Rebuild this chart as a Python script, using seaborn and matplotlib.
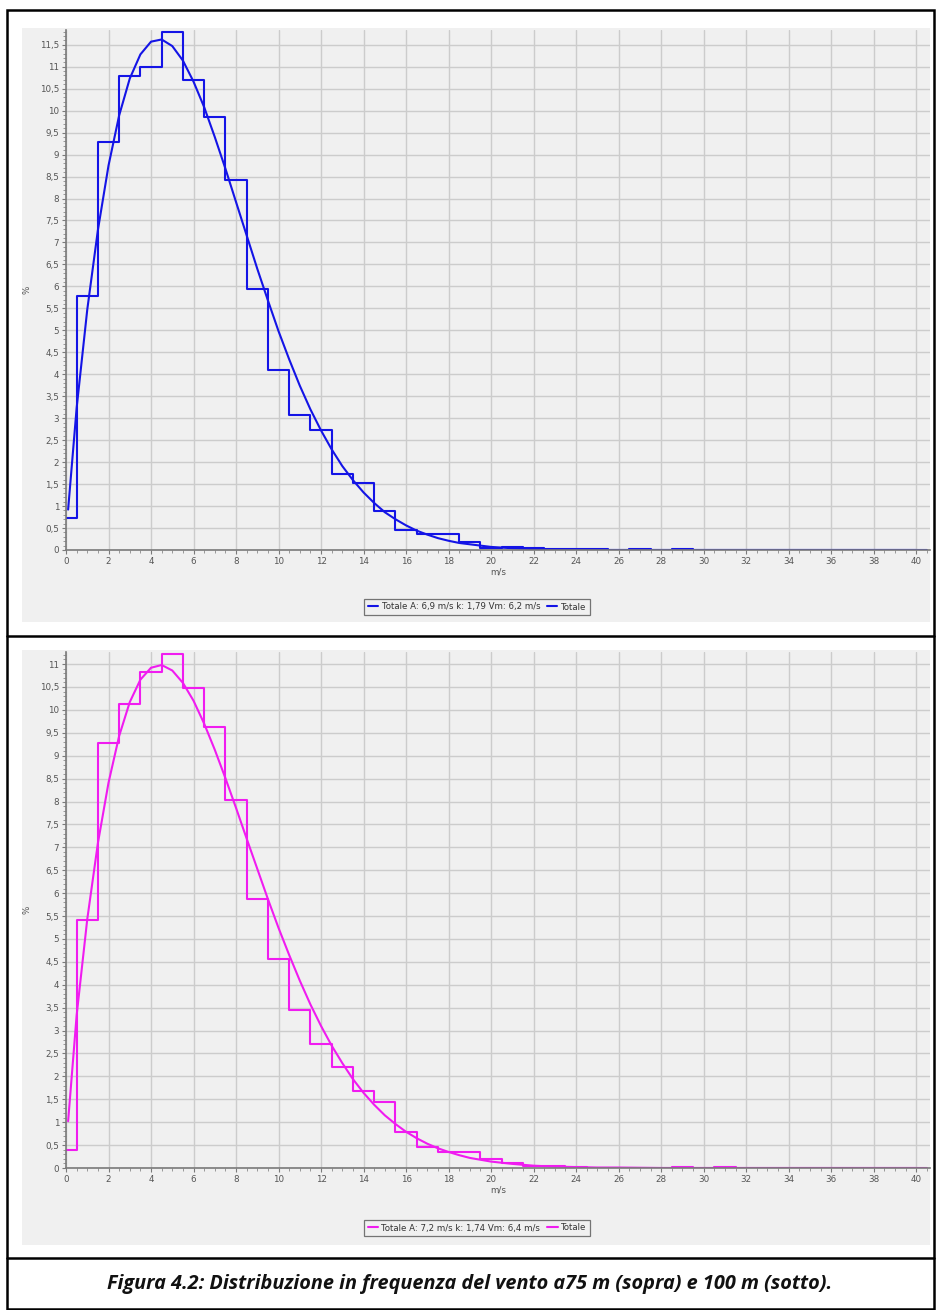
import numpy as np
import matplotlib
matplotlib.use("Agg")
import matplotlib.pyplot as plt
from matplotlib.patches import Rectangle
from matplotlib.lines import Line2D
from matplotlib.ticker import MultipleLocator, FuncFormatter
import pandas as pd
import seaborn as sns

# ──────────────────────────────────────────
# DATA
# ──────────────────────────────────────────
speed_bins = list(range(0, 41))

hist_75 = [0.73, 5.78, 9.28, 10.78, 11.0, 11.8, 10.7, 9.85, 8.42, 5.95,
           4.1, 3.07, 2.72, 1.74, 1.52, 0.89, 0.46, 0.37, 0.37, 0.19,
           0.05, 0.06, 0.05, 0.02, 0.02, 0.02, 0.01, 0.02, 0.01, 0.02,
           0.0, 0.0, 0.0, 0.0, 0.0, 0.0, 0.0, 0.0, 0.0, 0.0, 0.0]

hist_100 = [0.4, 5.42, 9.28, 10.13, 10.83, 11.23, 10.47, 9.62, 8.03, 5.87,
            4.57, 3.45, 2.7, 2.21, 1.68, 1.45, 0.79, 0.46, 0.36, 0.34,
            0.2, 0.11, 0.05, 0.04, 0.02, 0.01, 0.01, 0.0, 0.0, 0.02,
            0.0, 0.02, 0.0, 0.0, 0.0, 0.0, 0.0, 0.0, 0.0, 0.0, 0.0]

curve_x = [0.1, 0.5, 1, 1.5, 2, 2.5, 3, 3.5, 4, 4.5, 5, 5.5, 6, 6.5, 7, 7.5,
           8, 8.5, 9, 9.5, 10, 10.5, 11, 11.5, 12, 12.5, 13, 13.5, 14, 14.5,
           15, 15.5, 16, 16.5, 17, 17.5, 18, 18.5, 19, 19.5, 20, 21, 22, 23,
           24, 25, 26, 28, 30, 35, 40.5]

weibull_75 = [0.92, 3.23, 5.47, 7.28, 8.75, 9.89, 10.73, 11.28, 11.57, 11.62,
              11.47, 11.14, 10.66, 10.08, 9.40, 8.68, 7.92, 7.16, 6.40, 5.68,
              4.98, 4.34, 3.74, 3.20, 2.72, 2.29, 1.91, 1.59, 1.31, 1.07,
              0.86, 0.70, 0.56, 0.44, 0.35, 0.27, 0.21, 0.16, 0.13, 0.10,
              0.07, 0.04, 0.02, 0.01, 0.01, 0.0, 0.0, 0.0, 0.0, 0.0, 0.0]

weibull_100 = [1.02, 3.33, 5.43, 7.09, 8.41, 9.43, 10.17, 10.66, 10.92, 10.98,
               10.86, 10.59, 10.20, 9.70, 9.13, 8.51, 7.86, 7.19, 6.53, 5.87,
               5.24, 4.65, 4.09, 3.57, 3.10, 2.67, 2.29, 1.94, 1.64, 1.38,
               1.15, 0.96, 0.79, 0.65, 0.53, 0.43, 0.35, 0.28, 0.22, 0.18,
               0.14, 0.09, 0.05, 0.03, 0.02, 0.01, 0.01, 0.0, 0.0, 0.0, 0.0]

legend_75 = "Totale A: 6,9 m/s k: 1,79 Vm: 6,2 m/s"
legend_100 = "Totale A: 7,2 m/s k: 1,74 Vm: 6,4 m/s"
caption = "Figura 4.2: Distribuzione in frequenza del vento a75 m (sopra) e 100 m (sotto)."

# ──────────────────────────────────────────
# STYLE
# ──────────────────────────────────────────
sns.set_style("whitegrid", {"axes.facecolor": "#f0f0f0",
                            "grid.color": "#cccccc",
                            "axes.edgecolor": "#8a8a8a"})
plt.rcParams['font.family'] = ['DejaVu Sans']

W, H = 936, 1310
fig = plt.figure(figsize=(W / 100, H / 100), dpi=100)


def fx(px):
    return px / W


def fy(py):
    return 1 - py / H


comma = FuncFormatter(lambda v, _: f"{v:g}".replace('.', ','))

# gray chart panels
for top, bot in [(28, 622), (650, 1245)]:
    fig.patches.append(Rectangle((fx(22), fy(bot)), fx(930) - fx(22), fy(top) - fy(bot),
                                 transform=fig.transFigure, facecolor='#f0f0f0',
                                 edgecolor='none', zorder=-5))

# outer frame + dividers
fig.patches.append(Rectangle((fx(7), fy(1309)), fx(934) - fx(7), fy(10) - fy(1309),
                             transform=fig.transFigure, facecolor='none',
                             edgecolor='black', linewidth=1.8, zorder=10))
for yy in (636, 1258):
    fig.add_artist(Line2D([fx(7), fx(934)], [fy(yy), fy(yy)], color='black',
                          linewidth=1.8, transform=fig.transFigure))

panels = [
    dict(top=30, bot=550, hist=hist_75, curve=weibull_75, color='#1414e6',
         label=legend_75, leg_y=607),
    dict(top=652, bot=1168, hist=hist_100, curve=weibull_100, color='#f01cf0',
         label=legend_100, leg_y=1228),
]

for p in panels:
    ax = fig.add_axes([fx(66), fy(p['bot']), fx(930) - fx(66), fy(p['top']) - fy(p['bot'])])
    df_h = pd.DataFrame({'x': speed_bins, 'y': p['hist']})
    df_c = pd.DataFrame({'x': curve_x, 'y': p['curve']})

    sns.lineplot(data=df_c, x='x', y='y', ax=ax, color=p['color'], linewidth=1.5,
                 estimator=None, sort=False, label=p['label'], legend=False)
    sns.lineplot(data=df_h, x='x', y='y', ax=ax, color=p['color'], linewidth=1.5,
                 estimator=None, sort=False, drawstyle='steps-mid', label='Totale',
                 legend=False)

    ax.set_xlim(0, 40.65)
    ax.set_ylim(0, max(p['hist']) * 1.003)
    ax.xaxis.set_major_locator(MultipleLocator(2))
    ax.xaxis.set_minor_locator(MultipleLocator(0.5))
    ax.yaxis.set_major_locator(MultipleLocator(0.5))
    ax.yaxis.set_minor_locator(MultipleLocator(0.1))
    ax.yaxis.set_major_formatter(comma)
    ax.xaxis.set_major_formatter(comma)
    ax.grid(True, which='major', color='#cccccc', linewidth=1)
    ax.grid(False, which='minor')
    for s in ('top', 'right'):
        ax.spines[s].set_visible(False)
    for s in ('left', 'bottom'):
        ax.spines[s].set_color('#7a7a7a')
        ax.spines[s].set_linewidth(1.2)
    ax.tick_params(which='major', direction='out', length=3, width=0.8,
                   color='#7a7a7a', labelsize=6.3, labelcolor='#555555',
                   left=True, bottom=True, pad=2)
    ax.tick_params(which='minor', direction='out', length=2, width=0.6,
                   color='#8a8a8a', left=True, bottom=True)
    ax.set_xlabel('m/s', fontsize=6.3, color='#555555', labelpad=1)
    ax.set_ylabel('%', fontsize=6.3, color='#555555', labelpad=6)
    ax.patch.set_facecolor('#f0f0f0')

    handles, labels = ax.get_legend_handles_labels()
    leg = fig.legend(handles, labels, loc='center', ncol=2,
                     bbox_to_anchor=(fx(477), fy(p['leg_y'])),
                     fontsize=6.2, frameon=True, fancybox=False,
                     handlelength=1.2, handletextpad=0.4, columnspacing=0.8,
                     borderpad=0.4)
    leg.get_frame().set_edgecolor('#555555')
    leg.get_frame().set_facecolor('#f0f0f0')
    leg.get_frame().set_linewidth(0.9)
    for t in leg.get_texts():
        t.set_color('#333333')

fig.text(fx(470), fy(1284), caption, ha='center', va='center', fontsize=14.3,
         fontweight='bold', fontstyle='italic', family=['Open Sans', 'DejaVu Sans'],
         color='#111111')

fig.savefig('out.png', dpi=100)
